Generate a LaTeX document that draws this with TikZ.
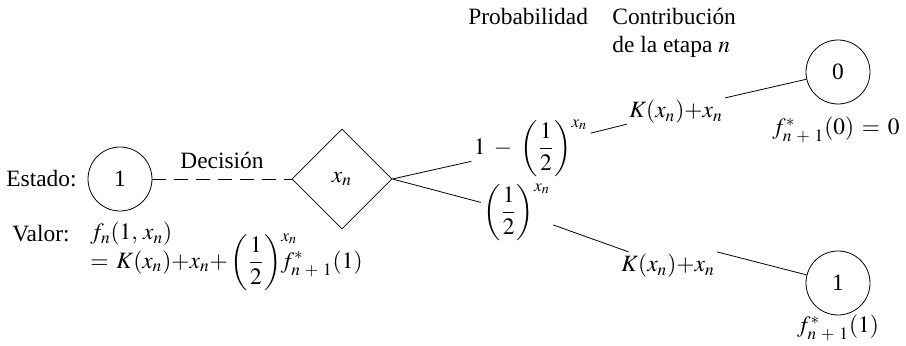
\documentclass[tikz,border=0pt]{standalone}
\usepackage{amsmath}
\usepackage{mathptmx}
\usepackage{fontspec}
\setmainfont{Liberation Serif}
\usetikzlibrary{shapes.geometric}

\begin{document}
\begin{tikzpicture}[x=0.5pt,y=-0.5pt,
  every node/.style={font=\fontsize{11.7}{14}\selectfont},
  state/.style={draw,circle,minimum size=32pt,inner sep=0pt},
  decision/.style={draw,diamond,minimum size=50pt,inner sep=0pt},
  lbl/.style={inner sep=1pt}]
\useasboundingbox (0,0) rectangle (906,346);
\def\half{\left(\dfrac{1}{2}\right)^{x_n}}
\def\nn{n\mkern5mu+\mkern5mu1}
% estados y decision
\node[state] (s1) at (120,179) {1};
\node[lbl,anchor=east] (estado) at (79,179) {Estado:};
\node[decision] (dec) at (342,179) {$x_n$};
\node[state] (s0) at (838,72) {0};
\node[state] (s2) at (838,283) {1};
%
\node[lbl] (pU) at (531,148) {$1\;-\;\half$};
\node[lbl] (cU) at (676,112) {$K(x_n){+}x_n$};
\node[lbl] (pL) at (517,212) {$\half$};
\node[lbl] (cL) at (668,266) {$K(x_n){+}x_n$};
\node[lbl] (fU) at (836,130) {$f^*_{\nn}(0)\,=\,0$};
\node[lbl] (fL) at (838,328) {$f^*_{\nn}(1)$};
% encabezados
\node[lbl,anchor=west] (prob) at (466,17) {Probabilidad};
\node[lbl,anchor=north west,align=left] (contrib) at (610,6)
  {Contribuci\'on\\de la etapa $n$};
% valor
\node[lbl,anchor=west] (valor) at (10,234) {Valor:};
\node[lbl,anchor=west] (fn) at (88,234) {$f_n(1,\,x_n)$};
\node[lbl,anchor=west] (fsum) at (88,262)
  {$=\,K(x_n){+}x_n{+}\half\kern-10pt f^*_{\nn}(1)$};
%
\draw[dash pattern=on 7pt off 4pt] (s1) -- node[lbl,above=4pt] (decl) {Decisi\'on} (dec);
\draw (dec.east) -- (pU);
\draw (pU) -- (cU);
\draw (cU.north east) -- (s0);
\draw (dec.east) -- (pL);
\draw (pL) -- (cL);
\draw (cL.north east) -- (s2);
\end{tikzpicture}
\end{document}
